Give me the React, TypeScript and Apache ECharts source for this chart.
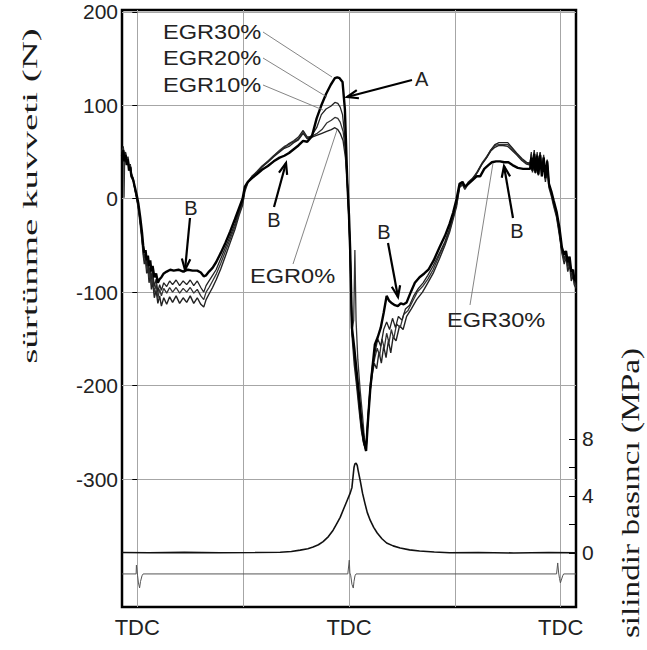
import React, { useEffect, useRef } from "react";
import * as echarts from "echarts";

// ---- axis ticks / labels ----
const crankTicks = [0, 180, 360, 540, 720];
const crankLabels = [0, 360, 720];
const crankLabelText = "TDC";
const forceTicks = [-300, -200, -100, 0, 100, 200];
const pressureTicks = [0, 2, 4, 6, 8];
const pressureLabels = [0, 4, 8];

const leftTitle = "sürtünme kuvveti (N)";
const rightTitle = "silindir basıncı (MPa)";

// ---- friction force (N) vs crank angle (deg) ----
const egr0: number[][] = [
  [-26, 51], [-24, 56], [-22, 45], [-20, 50], [-18, 39], [-16, 45], [-14, 33], [-12, 37], [-10, 27], [-7, 22], [-4, 9], [-1, 0], [2, -12], [5, -28], [8, -45], [10, -60], [12, -70], [14, -65], [16, -80], [18, -73], [20, -90], [22, -80], [24, -97], [26, -88], [29, -106], [32, -98], [35, -112], [38, -104], [41, -115], [45, -106], [50, -113], [55, -105], [60, -111], [66, -104], [72, -112], [78, -106], [84, -111], [90, -104], [96, -112], [102, -106], [108, -113], [113, -116], [117, -108], [122, -102], [128, -95], [134, -87], [142, -75], [150, -61], [158, -47], [166, -33], [173, -18], [179, -7], [183, 8], [188, 17], [195, 23], [203, 28], [212, 34], [222, 40], [232, 46], [242, 51], [250, 55], [258, 59], [266, 62], [274, 66], [282, 73], [289, 66], [297, 66], [306, 68], [314, 70], [322, 72], [330, 74], [336, 76], [341, 74], [345, 70], [350, 62], [354, 44], [357, 18], [360, -24], [362, -60], [365, -145], [369, -178], [373, -200], [377, -225], [381, -248], [385, -262], [389, -268], [392, -236], [396, -204], [399, -190], [403, -176], [407, -182], [411, -164], [415, -176], [419, -158], [423, -170], [427, -152], [431, -165], [435, -148], [440, -152], [446, -136], [452, -140], [458, -126], [466, -118], [475, -108], [485, -100], [494, -90], [503, -80], [514, -64], [523, -50], [531, -36], [537, -22], [543, -8], [548, 12], [553, 15], [557, 10], [563, 16], [570, 20], [578, 28], [586, 37], [594, 44], [601, 51], [608, 55], [615, 57], [622, 57], [630, 56], [637, 52], [645, 47], [654, 41], [662, 37], [668, 36], [670, 46], [672, 28], [675, 52], [677, 30], [680, 47], [682, 25], [685, 50], [688, 27], [691, 43], [694, 18], [697, 38], [700, 12], [704, 3], [708, -8], [713, -20], [718, -40], [722, -58], [726, -70], [729, -62], [732, -78], [735, -70], [738, -88], [741, -82], [743, -92], [746, -96],
];

const egr10: number[][] = [
  [-26, 50], [-24, 54], [-23, 46], [-22.5, 1], [-21.5, 44], [-20, 46], [-18, 38], [-16, 44], [-14, 32], [-12, 36], [-10, 26], [-7, 21], [-4, 10], [-1, 1], [2, -10], [5, -25], [8, -42], [10, -57], [12, -66], [14, -61], [16, -76], [18, -69], [20, -85], [22, -76], [24, -92], [26, -83], [29, -100], [32, -92], [35, -106], [38, -97], [41, -104], [45, -96], [50, -101], [55, -95], [60, -100], [66, -95], [72, -101], [78, -96], [84, -100], [90, -95], [96, -101], [102, -97], [108, -104], [113, -108], [117, -100], [122, -95], [128, -88], [134, -81], [142, -69], [150, -56], [158, -43], [166, -30], [173, -16], [179, -5], [183, 10], [188, 18], [195, 24], [203, 29], [212, 35], [222, 40], [232, 46], [242, 52], [250, 56], [258, 58], [266, 61], [274, 64], [282, 71], [289, 65], [297, 67], [306, 70], [314, 74], [322, 81], [330, 84], [336, 87], [341, 86], [345, 82], [350, 72], [354, 50], [357, 20], [360, -22], [362, -58], [365, -142], [368, -130], [370, -55], [372, -130], [375, -172], [379, -205], [383, -232], [386, -255], [389, -266], [392, -240], [396, -206], [400, -182], [404, -170], [408, -160], [412, -168], [416, -150], [420, -160], [424, -144], [428, -154], [432, -140], [436, -150], [441, -134], [447, -138], [453, -124], [460, -120], [468, -110], [476, -100], [485, -94], [494, -86], [503, -76], [514, -60], [523, -48], [531, -34], [537, -20], [543, -6], [548, 13], [553, 16], [557, 11], [563, 17], [570, 21], [578, 29], [586, 38], [594, 45], [601, 52], [608, 57], [615, 58], [622, 58], [630, 58], [637, 54], [645, 48], [654, 42], [662, 38], [668, 37], [670, 50], [672, 30], [675, 49], [677, 27], [680, 50], [682, 29], [685, 46], [688, 24], [691, 47], [694, 20], [697, 41], [700, 14], [704, 5], [708, -6], [713, -18], [718, -38], [722, -57], [726, -66], [729, -60], [732, -74], [735, -66], [738, -84], [741, -79], [743, -90], [746, -94],
];

const egr20: number[][] = [
  [-26, 48], [-24, 53], [-22, 42], [-20, 49], [-18, 37], [-16, 43], [-14, 31], [-12, 35], [-10, 25], [-7, 20], [-4, 11], [-1, 2], [2, -8], [5, -23], [8, -40], [10, -54], [12, -63], [14, -58], [16, -72], [18, -66], [20, -80], [22, -72], [24, -86], [26, -78], [29, -94], [32, -86], [35, -100], [38, -92], [41, -98], [45, -90], [50, -94], [55, -88], [60, -92], [66, -87], [72, -93], [78, -88], [84, -92], [90, -87], [96, -93], [102, -88], [108, -95], [113, -100], [117, -93], [122, -88], [128, -82], [134, -76], [142, -64], [150, -52], [158, -40], [166, -27], [173, -14], [179, -3], [183, 11], [188, 18], [195, 24], [203, 28], [212, 34], [222, 39], [232, 45], [242, 50], [250, 54], [258, 56], [266, 60], [274, 63], [282, 70], [289, 64], [297, 68], [305, 76], [313, 90], [321, 96], [329, 99], [336, 103], [341, 102], [345, 98], [349, 90], [353, 66], [357, 20], [360, -20], [362, -55], [365, -140], [369, -170], [373, -195], [377, -220], [381, -245], [385, -262], [389, -270], [392, -238], [396, -200], [400, -178], [404, -165], [409, -150], [414, -158], [419, -140], [424, -132], [429, -140], [434, -128], [439, -138], [444, -126], [450, -130], [456, -118], [463, -114], [470, -104], [478, -96], [486, -90], [494, -82], [503, -72], [514, -58], [523, -46], [531, -32], [537, -19], [543, -4], [548, 14], [553, 17], [557, 12], [563, 18], [570, 22], [578, 28], [586, 37], [594, 44], [601, 52], [608, 58], [615, 60], [622, 60], [630, 60], [637, 55], [645, 49], [654, 43], [662, 39], [668, 38], [670, 48], [672, 32], [675, 50], [677, 30], [680, 48], [682, 28], [685, 49], [688, 26], [691, 45], [694, 22], [697, 42], [700, 16], [704, 6], [708, -4], [713, -16], [718, -36], [722, -55], [726, -64], [729, -58], [732, -72], [735, -64], [738, -82], [741, -78], [743, -88], [746, -92],
];

const egr30: number[][] = [
  [-26, 46], [-24, 52], [-22, 40], [-20, 47], [-18, 36], [-16, 42], [-14, 30], [-12, 34], [-10, 24], [-7, 20], [-4, 12], [-1, 4], [2, -6], [5, -20], [8, -36], [10, -50], [12, -58], [14, -55], [16, -66], [18, -61], [20, -72], [22, -66], [24, -78], [26, -72], [29, -84], [32, -80], [35, -90], [38, -86], [41, -84], [45, -80], [50, -78], [56, -76], [62, -77], [70, -76], [78, -78], [86, -76], [94, -77], [102, -77], [108, -79], [113, -83], [117, -82], [122, -78], [128, -74], [134, -68], [142, -58], [150, -47], [158, -35], [166, -22], [173, -10], [179, 0], [183, 13], [188, 18], [195, 22], [203, 26], [212, 31], [222, 35], [232, 40], [242, 44], [250, 46], [258, 49], [266, 53], [274, 57], [282, 62], [289, 61], [297, 67], [305, 86], [313, 100], [321, 112], [329, 122], [336, 129], [340, 130], [344, 129], [349, 125], [353, 96], [357, 20], [360, -18], [362, -55], [365, -138], [369, -160], [373, -185], [377, -210], [381, -238], [385, -258], [389, -270], [392, -240], [396, -205], [400, -180], [404, -156], [409, -148], [414, -138], [419, -122], [424, -104], [428, -109], [433, -112], [438, -114], [443, -115], [448, -112], [453, -113], [458, -111], [465, -100], [472, -90], [480, -84], [488, -80], [495, -76], [504, -66], [514, -52], [523, -40], [531, -27], [537, -15], [543, 0], [548, 16], [553, 18], [557, 13], [563, 16], [570, 20], [577, 24], [583, 24], [590, 32], [597, 36], [603, 39], [610, 40], [617, 40], [624, 39], [631, 39], [638, 36], [647, 33], [656, 32], [664, 32], [668, 32], [670, 44], [672, 30], [675, 48], [677, 28], [680, 46], [682, 26], [685, 47], [688, 24], [691, 44], [694, 22], [697, 40], [700, 16], [704, 8], [708, -2], [713, -14], [718, -32], [722, -52], [726, -60], [729, -56], [732, -68], [735, -62], [738, -78], [741, -76], [743, -86], [746, -88],
];

// ---- cylinder pressure (MPa) ----
const pressure: number[][] = [
  [-26, 0.03], [20, 0.02], [80, 0.04], [140, 0.02], [200, 0.03], [243, 0.05], [262, 0.1], [277, 0.2], [290, 0.3], [299, 0.42], [308, 0.58], [316, 0.8], [325, 1.15], [333, 1.6], [339, 2.05], [345, 2.5], [351, 3.1], [357, 3.7], [362, 4.2], [365, 4.6], [367, 5.4], [368.5, 6.0], [370, 6.25], [372, 6.3], [374, 6.15], [375.5, 5.8], [379, 5.1], [383, 4.2], [387, 3.5], [391, 2.85], [396, 2.3], [402, 1.8], [408, 1.4], [416, 1.0], [424, 0.7], [435, 0.5], [447, 0.35], [463, 0.22], [480, 0.14], [505, 0.07], [531, 0.02], [580, 0.03], [640, 0.0], [700, 0.03], [746, 0.02],
];

// ---- TDC marker signal (plotted on pressure axis) ----
const tdcSignal: number[][] = [
  [-26, -1.47], [-2, -1.47], [-1.5, -0.85], [0.5, -1.6], [2, -2.1], [3.9, -2.45], [5.5, -2.0], [8, -1.6], [10, -1.47], [358, -1.47], [360.5, -0.5], [361.5, -1.4], [363, -1.6], [365, -2.2], [367.3, -2.46], [368.5, -2.0], [370.2, -1.6], [372, -1.47], [713, -1.47], [714.9, -0.7], [716.5, -1.4], [718, -1.8], [719.5, -2.1], [721, -1.9], [723.4, -1.6], [725, -1.47], [746, -1.47],
];

// ---- annotations (pixel positions) ----
const labelTexts = [
  { text: "EGR30%", x: 163, y: 32, align: "left" },
  { text: "EGR20%", x: 163, y: 58, align: "left" },
  { text: "EGR10%", x: 163, y: 85, align: "left" },
  { text: "EGR0%", x: 250, y: 276, align: "left" },
  { text: "EGR30%", x: 447, y: 320, align: "left" },
  { text: "A", x: 415, y: 79, align: "left" },
  { text: "B", x: 191, y: 208, align: "center" },
  { text: "B", x: 274, y: 220, align: "center" },
  { text: "B", x: 384, y: 232, align: "center" },
  { text: "B", x: 517, y: 231, align: "center" },
];
const leaders = [
  [[263, 32], [332, 77]],
  [[263, 58], [327, 97]],
  [[263, 85], [323, 110]],
  [[293, 264], [337, 130]],
  [[470, 305], [493, 163]],
];
const arrows = [
  [[412, 80], [347, 97]],
  [[190, 218], [185, 270]],
  [[274, 207], [286, 163]],
  [[388, 243], [398, 297]],
  [[513, 218], [504, 166]],
];

const FONT = '"Liberation Sans", Arial, sans-serif';
const SERIF = '"Liberation Serif", "Times New Roman", serif';

function arrowEls(tail: number[], tip: number[]) {
  const dx = tip[0] - tail[0];
  const dy = tip[1] - tail[1];
  const len = Math.hypot(dx, dy);
  const ux = dx / len;
  const uy = dy / len;
  const h = 12;
  const a = 0.36;
  const c = Math.cos(a);
  const s = Math.sin(a);
  const p1 = [tip[0] - h * (ux * c - uy * s), tip[1] - h * (uy * c + ux * s)];
  const p2 = [tip[0] - h * (ux * c + uy * s), tip[1] - h * (uy * c - ux * s)];
  return [
    {
      type: "line",
      z: 100,
      shape: { x1: tail[0], y1: tail[1], x2: tip[0], y2: tip[1] },
      style: { stroke: "#000", lineWidth: 2.2 },
    },
    {
      type: "polyline",
      z: 100,
      shape: { points: [p1, tip, p2] },
      style: { stroke: "#000", lineWidth: 2.2, fill: null },
    },
  ];
}

export default function App() {
  const ref = useRef<HTMLDivElement>(null);
  useEffect(() => {
    if (!ref.current) return;
    const chart = echarts.init(ref.current, null, { renderer: "svg" });

    const graphics: any[] = [];
    labelTexts.forEach((t) => {
      const isEgr = t.text.startsWith("EGR");
      graphics.push({
        type: "text",
        z: 100,
        x: t.x,
        y: t.y,
        scaleX: isEgr ? 1.18 : 1,
        style: {
          text: t.text,
          font: `20px ${FONT}`,
          fill: "#222",
          align: t.align,
          verticalAlign: "middle",
        },
      });
    });
    leaders.forEach(([a, b]) => {
      graphics.push({
        type: "line",
        z: 99,
        shape: { x1: a[0], y1: a[1], x2: b[0], y2: b[1] },
        style: { stroke: "#777", lineWidth: 0.9 },
      });
    });
    arrows.forEach(([tail, tip]) => graphics.push(...arrowEls(tail, tip)));
    graphics.push({
      type: "text",
      z: 100,
      x: 30,
      y: 196,
      rotation: Math.PI / 2,
      scaleX: 1.95,
      style: {
        text: leftTitle,
        font: `20px ${SERIF}`,
        fill: "#1a1a1a",
        align: "center",
        verticalAlign: "middle",
      },
    });
    graphics.push({
      type: "text",
      z: 100,
      x: 630,
      y: 493,
      rotation: Math.PI / 2,
      scaleX: 1.28,
      style: {
        text: rightTitle,
        font: `26px ${SERIF}`,
        fill: "#1a1a1a",
        align: "center",
        verticalAlign: "middle",
      },
    });

    const lineSeries = (name: string, data: number[][], color: string, width: number, yAxisIndex = 0, z = 2) => ({
      name,
      type: "line",
      data,
      yAxisIndex,
      showSymbol: false,
      symbol: "none",
      z,
      lineStyle: { color, width },
      emphasis: { disabled: true },
      silent: true,
    });

    chart.setOption({
      animation: false,
      backgroundColor: "#fff",
      grid: {
        left: 122,
        right: 71,
        top: 10,
        bottom: 43,
        show: true,
        borderColor: "#000",
        borderWidth: 2.5,
        backgroundColor: "transparent",
        outerBoundsMode: "none",
      },
      xAxis: {
        type: "value",
        min: -26,
        max: 746,
        axisLine: { show: false },
        axisTick: { show: false, customValues: crankTicks },
        axisLabel: {
          customValues: crankLabels,
          formatter: () => crankLabelText,
          fontSize: 22,
          fontFamily: FONT,
          color: "#222",
          margin: 9,
        },
        splitLine: { show: true, lineStyle: { color: "#a6a6a6", width: 1 } },
      },
      yAxis: [
        {
          type: "value",
          min: -437,
          max: 202,
          position: "left",
          axisLine: { show: false },
          axisTick: { show: true, customValues: forceTicks, length: 5, lineStyle: { color: "#000", width: 1 } },
          axisLabel: {
            customValues: forceTicks,
            fontSize: 21,
            fontFamily: FONT,
            color: "#222",
            margin: 4,
          },
          splitLine: { show: true, lineStyle: { color: "#a6a6a6", width: 1 } },
        },
        {
          type: "value",
          min: -3.79,
          max: 38.1,
          position: "right",
          axisLine: { show: false },
          axisTick: {
            show: true,
            inside: true,
            customValues: pressureTicks,
            length: 7,
            lineStyle: { color: "#000", width: 1 },
          },
          axisLabel: {
            customValues: pressureLabels,
            fontSize: 21,
            fontFamily: FONT,
            color: "#222",
            margin: 6,
          },
          splitLine: { show: false },
        },
      ],
      series: [
        lineSeries("TDC", tdcSignal, "#555", 1, 1, 2),
        lineSeries("Basınç", pressure, "#111", 1.6, 1, 3),
        lineSeries("EGR0%", egr0, "#222", 1.4, 0, 4),
        lineSeries("EGR10%", egr10, "#333", 1.3, 0, 5),
        lineSeries("EGR20%", egr20, "#222", 1.3, 0, 6),
        lineSeries("EGR30%", egr30, "#000", 2.4, 0, 7),
      ],
      graphic: graphics,
    });
    return () => chart.dispose();
  }, []);
  return (
    <div
      ref={ref}
      style={{ position: "absolute", left: 0, top: 0, width: 647, height: 650, background: "#fff" }}
    />
  );
}
